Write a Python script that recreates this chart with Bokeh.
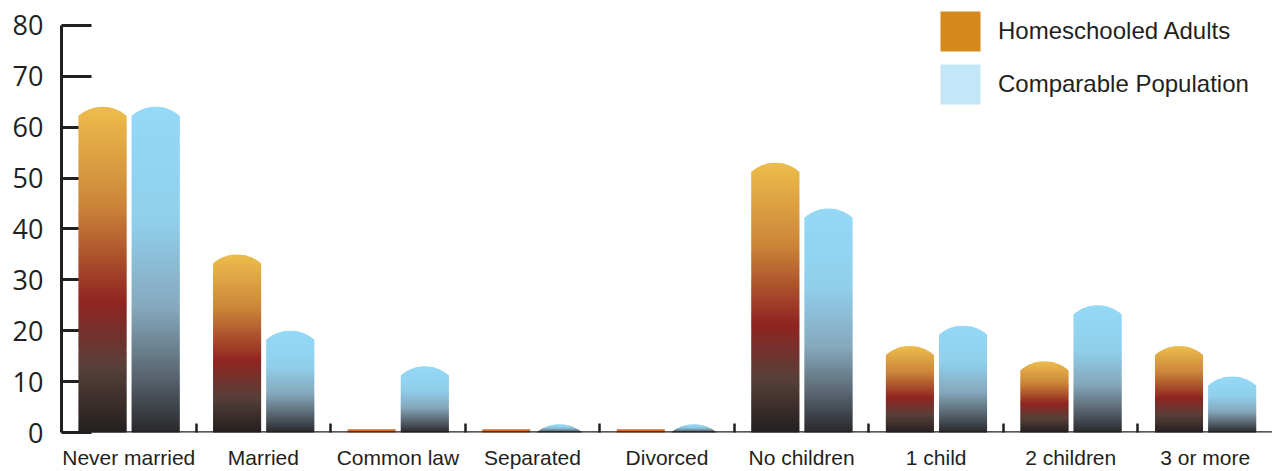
import numpy as np
from bokeh.plotting import figure
from bokeh.models import FixedTicker, Span, Legend, LegendItem, ColumnDataSource
from bokeh.embed import file_html
from bokeh.resources import INLINE

# ---------------- data ----------------
categories = ["Never married", "Married", "Common law", "Separated", "Divorced",
              "No children", "1 child", "2 children", "3 or more"]
homeschooled = [64, 35, 0, 0, 0, 53, 17, 14, 17]
comparable = [64, 20, 13, 1.6, 1.6, 44, 21, 25, 11]
y_ticks = [0, 10, 20, 30, 40, 50, 60, 70, 80]
series_names = ["Homeschooled Adults", "Comparable Population"]

# ---------------- layout ----------------
W, H = 1272, 471
B_LEFT, B_BOTTOM = 61, 38
AXIS_TOP_PX = 25          # where the top tick sits
frame_w = W - B_LEFT
frame_h = H - B_BOTTOM
PX_X = 134.56
x_end = frame_w / PX_X
Y_MAX = max(y_ticks)
PX_Y = (frame_h - AXIS_TOP_PX) / Y_MAX
y_end = frame_h / PX_Y

INK = "#231f20"

p = figure(width=W, height=H, x_range=(0, x_end), y_range=(0, y_end),
           output_backend="svg", toolbar_location=None,
           min_border_left=B_LEFT, min_border_right=0,
           min_border_top=0, min_border_bottom=B_BOTTOM)
p.outline_line_color = None
p.grid.visible = False
p.background_fill_color = "white"

# ---------------- gradient bars ----------------
ORANGE_STOPS = [(0.0, "#edbd4d"), (0.30, "#cc8639"), (0.60, "#8f2421"),
                (0.80, "#574039"), (1.0, "#231f20")]
BLUE_STOPS = [(0.0, "#94d9f7"), (0.35, "#90cfec"), (0.62, "#85a8bc"),
              (0.82, "#5a6772"), (1.0, "#29282b")]


def hex2rgb(h):
    h = h.lstrip("#")
    return np.array([int(h[i:i + 2], 16) for i in (0, 2, 4)], float)


def grad(stops, t):
    t = min(max(t, 0.0), 1.0)
    for (t0, c0), (t1, c1) in zip(stops[:-1], stops[1:]):
        if t <= t1:
            f = (t - t0) / (t1 - t0) if t1 > t0 else 0
            c = hex2rgb(c0) * (1 - f) + hex2rgb(c1) * f
            return "#%02x%02x%02x" % tuple(int(round(v)) for v in c)
    return stops[-1][1]


R_PX = 36.0
HALF_W = 24.0
SAG = R_PX - np.sqrt(R_PX ** 2 - HALF_W ** 2)


def half_width(h, Hp):
    d = Hp - h
    if d >= SAG:
        return HALF_W
    v = np.sqrt(max(R_PX ** 2 - (R_PX - d) ** 2, 0.0))
    return min(v, HALF_W)


def build(values, offset, stops):
    xs, ys, cs = [], [], []
    stub_l, stub_r = [], []
    for i, v in enumerate(values):
        cx = i + offset
        Hp = v * PX_Y
        if Hp <= 0:
            stub_l.append(cx - HALF_W / PX_X)
            stub_r.append(cx + HALF_W / PX_X)
            continue
        n = max(int(np.ceil(Hp / 2.0)), 1)
        edges = np.linspace(0, Hp, n + 1)
        for h0, h1 in zip(edges[:-1], edges[1:]):
            top = min(h1 + 1.2, Hp)  # overlap next strip to hide seams
            if Hp - h0 < SAG + 3:
                hs = np.linspace(h0, top, 9)
            else:
                hs = np.array([h0, top])
            lx = [cx - half_width(h, Hp) / PX_X for h in hs]
            rx = [cx + half_width(h, Hp) / PX_X for h in hs[::-1]]
            yy = [h / PX_Y for h in hs] + [h / PX_Y for h in hs[::-1]]
            xs.append(lx + rx)
            ys.append(yy)
            t = 1 - ((h0 + h1) / 2) / Hp
            cs.append(grad(stops, t))
    return xs, ys, cs, stub_l, stub_r


for vals, off, stops, stub_col in [(homeschooled, 0.305, ORANGE_STOPS, "#d5692b"),
                                   (comparable, 0.70, BLUE_STOPS, "#8fc9e3")]:
    xs, ys, cs, sl, sr = build(vals, off, stops)
    src = ColumnDataSource(dict(xs=xs, ys=ys, c=cs))
    p.patches(xs="xs", ys="ys", fill_color="c", line_color=None,
              source=src, level="annotation")
    if sl:
        p.quad(left=sl, right=sr, bottom=[0] * len(sl), top=[3.2 / PX_Y] * len(sl),
               fill_color=stub_col, line_color=None, level="annotation")

# baseline drawn over the bars
p.add_layout(Span(location=0, dimension="width", line_color=INK, line_width=2.6,
                  level="overlay"))

# ---------------- axes ----------------
ya = p.yaxis[0]
ya.ticker = FixedTicker(ticks=y_ticks)
ya.bounds = (min(y_ticks), Y_MAX)
ya.axis_line_color = INK
ya.axis_line_width = 3
ya.major_tick_line_color = INK
ya.major_tick_line_width = 3
ya.major_tick_in = 30
ya.major_tick_out = 0
ya.minor_tick_line_color = None
ya.major_label_standoff = 18
ya.major_label_text_font = "Open Sans"
ya.major_label_text_font_size = "27px"
ya.major_label_text_color = INK

centers = [i + 0.5 for i in range(len(categories))]
xa = p.xaxis[0]
xa.ticker = FixedTicker(ticks=centers, minor_ticks=list(range(1, len(categories))))
xa.major_label_overrides = {c: lab for c, lab in zip(centers, categories)}
xa.axis_line_color = None
xa.major_tick_line_color = None
xa.major_tick_in = 0
xa.major_tick_out = 0
xa.minor_tick_line_color = INK
xa.minor_tick_line_width = 2.5
xa.minor_tick_in = 9
xa.minor_tick_out = 0
xa.axis_label_standoff = 0
xa.major_label_standoff = 13
xa.major_label_text_font = "Liberation Sans"
xa.major_label_text_font_size = "21px"
xa.major_label_text_color = INK

# ---------------- legend ----------------
# area legend glyphs are inset by 10% on each side, so 50px boxes show 40px squares
r_h = p.quad(left=[0], right=[0], top=[0], bottom=[0], fill_color="#d4891a", line_color=None)
r_c = p.quad(left=[0], right=[0], top=[0], bottom=[0], fill_color="#c3e7f8", line_color=None)
legend = Legend(items=[LegendItem(label=series_names[0], renderers=[r_h]),
                       LegendItem(label=series_names[1], renderers=[r_c])],
                location=(935 - B_LEFT, frame_h - 110),
                glyph_width=50, glyph_height=50,
                label_height=50, label_standoff=13, spacing=3, padding=0, margin=0,
                border_line_color=None, background_fill_color=None,
                label_text_font="Liberation Sans", label_text_font_size="24px",
                label_text_color=INK)
p.add_layout(legend)

open("out.html", "w").write(file_html(p, INLINE))
